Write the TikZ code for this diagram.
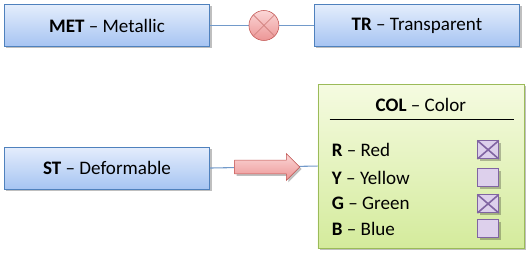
\documentclass[tikz,border=0pt]{standalone}
\usepackage{fontspec}
\setmainfont{Carlito}
\usetikzlibrary{positioning,calc,shapes.arrows,shadows}
\definecolor{bluetop}{HTML}{E4EDFC}
\definecolor{bluebot}{HTML}{A6C4F2}
\definecolor{blueline}{HTML}{4F81BD}
\definecolor{greentop}{HTML}{F5FBE1}
\definecolor{greenbot}{HTML}{D4EB9C}
\definecolor{greenline}{HTML}{9BBB59}
\definecolor{pinktop}{HTML}{FBD6D6}
\definecolor{pinkbot}{HTML}{EC9595}
\definecolor{pinkline}{HTML}{C0504D}
\definecolor{lilac}{HTML}{DDD0EC}
\definecolor{lilacline}{HTML}{8064A2}

\begin{document}
\begin{tikzpicture}[
  x=0.75pt, y=-0.75pt,
  font=\fontsize{14.3}{16}\selectfont,
  shade/.style={drop shadow={shadow xshift=1.5pt, shadow yshift=-1.5pt,
                opacity=0.25, fill=black}},
  blk/.style={draw=blueline, top color=bluetop, bottom color=bluebot,
              minimum width=154pt, minimum height=31.5pt, shade},
  grn/.style={draw=greenline, top color=greentop, bottom color=greenbot,
              minimum width=154.5pt, minimum height=123pt, shade},
  xcirc/.style={circle, draw=pinkline, top color=pinktop, bottom color=pinkbot,
                minimum size=22.5pt, inner sep=0pt},
  bigarr/.style={single arrow, draw=pinkline, top color=pinktop, bottom color=pinkbot,
                 inner sep=0pt, inner ysep=4.9pt, single arrow head extend=4.9pt,
                 minimum height=48.75pt, minimum width=19.5pt, shade},
  chk/.style={draw=lilacline, fill=lilac, minimum width=15.75pt,
              minimum height=13.5pt, inner sep=0pt, shade},
  link/.style={draw=blueline!80, line width=0.8pt}
]
\useasboundingbox (0,0) rectangle (529,256);
\node[blk] (met) at (107,25.5) {\textbf{MET} -- Metallic};
\node[blk, right=78pt of met] (tr) {\textbf{TR} -- Transparent};
\node[blk, below=75pt of met] (st) {\textbf{ST} -- Deformable};
\node[grn, below=27.75pt of tr, xshift=3pt] (col) {};
\draw[link] (met) -- (tr);
\node[xcirc] (xr) at ($(met.east)!0.5!(tr.west)+(2,0)$) {};
\draw[pinkline!70, line width=0.6pt] (xr.45) -- (xr.225) (xr.135) -- (xr.315);
\draw[link] (st.east) -- (col.west);
\node[bigarr] (push) at ($(st.east)!0.5!(col.west)$) {};
\node (coltitle) at ($(col.north)+(0,21)$) {\textbf{COL} -- Color};
\coordinate (ruleL) at ($(col.north west)+(12,36)$);
\coordinate (ruleR) at ($(col.north east)+(-10,36)$);
\draw[line width=0.8pt] (ruleL) -- (ruleR);
\foreach \k/\nm/\yy/\tick in {R/Red/66/1, Y/Yellow/94/0, G/Green/120/1, B/Blue/145/0}{
  \node[anchor=west, inner sep=0pt] (row\k) at ($(col.north west)+(14,\yy)$) {\textbf{\k} -- \nm};
  \node[chk] (box\k) at ($(col.north west)+(170.5,\yy)$) {};
  \ifnum\tick=1
    \draw[lilacline, line width=1.2pt] (box\k.north west) -- (box\k.south east)
      (box\k.north east) -- (box\k.south west);
  \fi
}
\end{tikzpicture}
\end{document}
